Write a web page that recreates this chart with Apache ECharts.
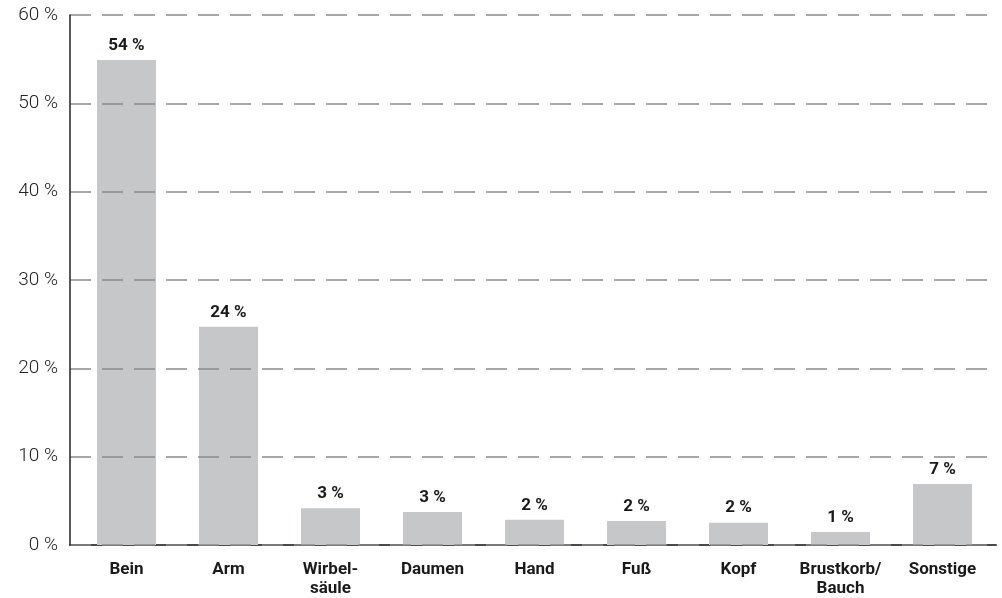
<!DOCTYPE html>
<html>
<head>
<meta charset="utf-8">
<script src="https://cdn.jsdelivr.net/npm/echarts@6/dist/echarts.min.js"></script>
<style>html,body{margin:0;padding:0;background:#fff;}#c{width:1002px;height:598px;}</style>
</head>
<body>
<div id="c"></div>
<script>
const categories = ['Bein', 'Arm', 'Wirbel-\nsäule', 'Daumen', 'Hand', 'Fuß', 'Kopf', 'Brustkorb/\nBauch', 'Sonstige'];
const barValues = [54.9, 24.7, 4.15, 3.75, 2.85, 2.72, 2.52, 1.47, 6.9];
const valueLabels = ['54', '24', '3', '3', '2', '2', '2', '1', '7'];
const yTicks = [0, 10, 20, 30, 40, 50, 60];

const chart = echarts.init(document.getElementById('c'), null, {renderer: 'canvas'});
const option = {
  animation: false,
  backgroundColor: '#fff',
  grid: [
    {left: 70, right: 6, top: 15, bottom: 53},
    {left: 75.5, right: 8.5, top: 15, bottom: 53}
  ],
  xAxis: [
    {
      gridIndex: 0, type: 'category', data: [''],
      axisLine: {show: true, lineStyle: {color: '#4a4a4a', width: 2}},
      axisTick: {show: false}, axisLabel: {show: false}, splitLine: {show: false}
    },
    {
      gridIndex: 1, type: 'category', data: categories,
      axisLine: {show: false}, axisTick: {show: false},
      axisLabel: {
        margin: 15, color: '#1a1a1a', fontFamily: 'Roboto', fontWeight: 'bold',
        fontSize: 17, lineHeight: 19, interval: 0
      }
    }
  ],
  yAxis: [
    {
      gridIndex: 0, type: 'value', min: yTicks[0], max: yTicks[yTicks.length - 1], interval: 10, z: 5,
      axisLine: {show: true, lineStyle: {color: '#222', width: 1.5}},
      axisTick: {show: false},
      axisLabel: {
        formatter: '{value} %', margin: 12, color: '#222', fontFamily: 'Roboto',
        fontWeight: 300, fontSize: 19
      },
      splitLine: {show: true, lineStyle: {color: '#8c8c8c', width: 1.5, type: [21, 11]}}
    },
    {
      gridIndex: 1, type: 'value', min: yTicks[0], max: yTicks[yTicks.length - 1], show: false,
      splitLine: {show: false}
    }
  ],
  series: [
    {
      type: 'bar', xAxisIndex: 1, yAxisIndex: 1, data: barValues, barWidth: 59,
      itemStyle: {color: '#c6c7c8'},
      label: {
        show: true, position: 'top', distance: 6, color: '#1a1a1a',
        fontFamily: 'Roboto', fontWeight: 'bold', fontSize: 17,
        formatter: p => valueLabels[p.dataIndex] + ' %'
      }
    }
  ]
};
chart.setOption(option);
</script>
</body>
</html>
